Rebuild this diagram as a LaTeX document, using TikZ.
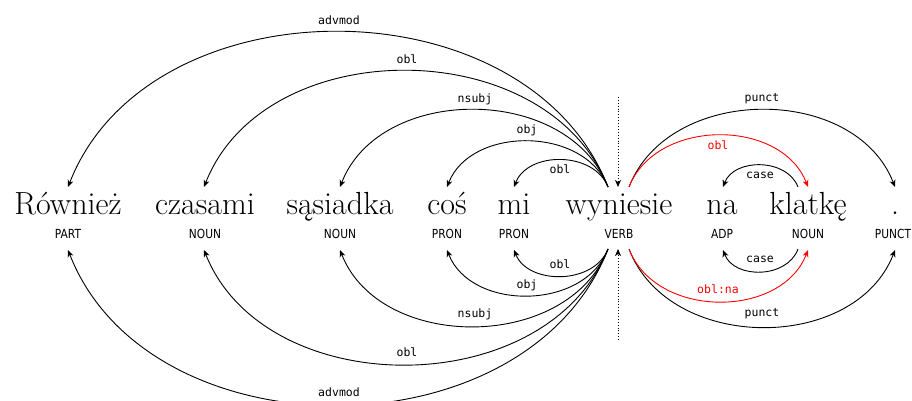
\documentclass[tikz,border=0pt]{standalone}
\usepackage{fontspec}
\newfontfamily\tagfont{DejaVu Sans}[FakeStretch=0.85]
\newfontfamily\labfont{DejaVu Sans Mono}
\usetikzlibrary{arrows.meta}
\begin{document}
\begin{tikzpicture}[x=1pt,y=-1pt,
  word/.style={anchor=base,inner sep=0pt,font=\fontsize{32}{32}\selectfont},
  tagtext/.style={anchor=base,inner sep=0pt,font=\tagfont\fontsize{12.5}{12.5}\selectfont},
  lab/.style={inner sep=0pt,font=\labfont\fontsize{11.5}{11.5}\selectfont},
  deparc/.style={line width=0.9pt,-{Stealth[length=7pt,width=6pt,inset=2pt]}},
  redarc/.style={deparc,draw=red},
  rootline/.style={line width=0.9pt,dotted,-{Stealth[length=7pt,width=6pt,inset=2pt]}}]
\useasboundingbox (0,0) rectangle (912,401);

% words
\node[word] (w1) at (68,214) {Również};
\node[word] (w2) at (205,214) {czasami};
\node[word] (w3) at (340,214) {sąsiadka};
\node[word] (w4) at (447,214) {coś};
\node[word] (w5) at (514,214) {mi};
\node[word] (w6) at (619,214) {wyniesie};
\node[word] (w7) at (722,214) {na};
\node[word] (w8) at (808,214) {klatkę};
\node[word] (w9) at (895,214) {.};

% tags
\node[tagtext] (t1) at (68,238) {PART};
\node[tagtext] (t2) at (205,238) {NOUN};
\node[tagtext] (t3) at (340,238) {NOUN};
\node[tagtext] (t4) at (447,238) {PRON};
\node[tagtext] (t5) at (514,238) {PRON};
\node[tagtext] (t6) at (619,238) {VERB};
\node[tagtext] (t7) at (722,238) {ADP};
\node[tagtext] (t8) at (808,238) {NOUN};
\node[tagtext] (t9) at (893,238) {PUNCT};

% top anchor points
\coordinate (u1) at (68,187);
\coordinate (u2) at (204,187);
\coordinate (u3) at (340,187);
\coordinate (u4) at (447,187);
\coordinate (u5) at (514,187);
\coordinate (u6L) at (608,187);
\coordinate (u6R) at (629,187);
\coordinate (u7) at (723,187);
\coordinate (u8s) at (798,187);
\coordinate (u8) at (808,187);
\coordinate (u9) at (895,187);
\coordinate (rt) at (618,97);
% bottom anchor points
\coordinate (d1) at (68,250);
\coordinate (d2) at (204,250);
\coordinate (d3) at (340,250);
\coordinate (d4) at (447,250);
\coordinate (d5) at (514,250);
\coordinate (d6L) at (608,249);
\coordinate (d6R) at (629,249);
\coordinate (d7) at (723,250);
\coordinate (d8s) at (798,249);
\coordinate (d8) at (808,250);
\coordinate (d9) at (895,250);
\coordinate (rb) at (618,340);

% root lines
\draw[rootline] (rt) -- (u6L -| rt);
\draw[rootline] (rb) -- (d6L -| rb);

% top arcs (left)
\draw[deparc] (u6L) .. controls (527,-20) and (149,-20) .. (u1);
\draw[deparc] (u6L) .. controls (547,32) and (265,32) .. (u2);
\draw[deparc] (u6L) .. controls (568,84) and (380,84) .. (u3);
\draw[deparc] (u6L) .. controls (584,126) and (471,126) .. (u4);
\draw[deparc] (u6L) .. controls (594,151) and (528,151) .. (u5);
% top arcs (right)
\draw[deparc] (u6R) .. controls (669,84) and (855,84) .. (u9);
\draw[redarc] (u6R) .. controls (656,118) and (781,118) .. (u8);
\draw[deparc] (u8s) .. controls (787,158) and (734,158) .. (u7);

% bottom arcs (left)
\draw[deparc] (d6L) .. controls (527,457) and (149,457) .. (d1);
\draw[deparc] (d6L) .. controls (547,403) and (265,403) .. (d2);
\draw[deparc] (d6L) .. controls (568,352) and (380,352) .. (d3);
\draw[deparc] (d6L) .. controls (584,311) and (471,311) .. (d4);
\draw[deparc] (d6L) .. controls (594,285) and (528,285) .. (d5);
% bottom arcs (right)
\draw[deparc] (d6R) .. controls (669,353) and (855,353) .. (d9);
\draw[redarc] (d6R) .. controls (656,319) and (781,319) .. (d8);
\draw[deparc] (d8s) .. controls (787,279) and (734,279) .. (d7);

% top labels
\node[lab] (la1) at (339,20) {advmod};
\node[lab] (la2) at (407,59) {obl};
\node[lab] (la3) at (475,99) {nsubj};
\node[lab] (la4) at (527,130) {obj};
\node[lab] (la5) at (560,169) {obl};
\node[lab] (la6) at (762,99) {punct};
\node[lab,text=red] (la7) at (718,145) {obl};
\node[lab] (la8) at (760,175) {case};
% bottom labels
\node[lab] (lb1) at (339,392) {advmod};
\node[lab] (lb2) at (407,352) {obl};
\node[lab] (lb3) at (475,314) {nsubj};
\node[lab] (lb4) at (527,285) {obj};
\node[lab] (lb5) at (560,264) {obl};
\node[lab] (lb6) at (762,314) {punct};
\node[lab,text=red] (lb7) at (718,289) {obl:na};
\node[lab] (lb8) at (760,259) {case};
\end{tikzpicture}
\end{document}
